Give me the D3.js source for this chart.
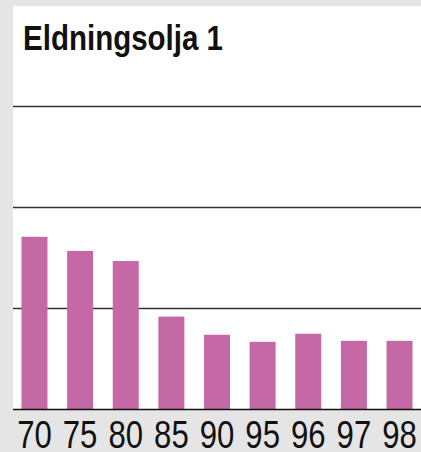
<!DOCTYPE html>
<html>
<head>
<meta charset="utf-8">
<script src="https://cdn.jsdelivr.net/npm/d3@7"></script>
<style>
  body { margin: 0; background: #e5e5e5; }
  svg { display: block; }
</style>
</head>
<body>
<svg id="chart" width="421" height="452"></svg>
<script>
const years = ['70', '75', '80', '85', '90', '95', '96', '97', '98'];
const values = [1.71, 1.57, 1.47, 0.92, 0.74, 0.67, 0.75, 0.68, 0.68];
const gridValues = [1, 2, 3];

const width = 421, height = 452;
const panel = { left: 13, top: 6, right: 421, bottom: 409.5 };
const squeeze = 0.82; // no narrow font installed, so squash the sans

const svg = d3.select('#chart');

svg.append('rect')
  .attr('x', panel.left)
  .attr('y', panel.top)
  .attr('width', panel.right - panel.left)
  .attr('height', panel.bottom - panel.top)
  .attr('fill', '#fff');

const x = d3.scaleBand()
  .domain(years)
  .range([panel.left, panel.right])
  .paddingInner(0.43)
  .paddingOuter(0.186);

const y = d3.scaleLinear()
  .domain([0, 3])
  .range([panel.bottom, 106.5]);

svg.append('g')
  .selectAll('line')
  .data(gridValues)
  .join('line')
  .attr('x1', panel.left)
  .attr('x2', panel.right)
  .attr('y1', d => y(d))
  .attr('y2', d => y(d))
  .attr('stroke', '#333')
  .attr('stroke-width', 1.5);

svg.append('g')
  .selectAll('rect')
  .data(values)
  .join('rect')
  .attr('x', (d, i) => x(years[i]))
  .attr('y', d => y(d))
  .attr('width', x.bandwidth())
  .attr('height', d => y(0) - y(d))
  .attr('fill', '#c568a6');

svg.append('line')
  .attr('x1', panel.left)
  .attr('x2', panel.right)
  .attr('y1', y(0))
  .attr('y2', y(0))
  .attr('stroke', '#111')
  .attr('stroke-width', 1.5);

const xAxis = svg.append('g')
  .attr('transform', `translate(0,${y(0)})`)
  .call(d3.axisBottom(x).tickSize(0).tickPadding(0));
xAxis.select('.domain').remove();
xAxis.selectAll('text')
  .attr('dy', null)
  .attr('y', 0)
  .attr('transform', `translate(0,38) scale(${squeeze},1)`)
  .attr('fill', '#111')
  .style('font-family', '"Liberation Sans", Arial, sans-serif')
  .style('font-size', '38px');

svg.append('text')
  .attr('transform', `translate(23,50) scale(${squeeze},1)`)
  .attr('fill', '#111')
  .style('font-family', '"Liberation Sans", Arial, sans-serif')
  .style('font-weight', 'bold')
  .style('font-size', '36px')
  .text('Eldningsolja 1');
</script>
</body>
</html>
